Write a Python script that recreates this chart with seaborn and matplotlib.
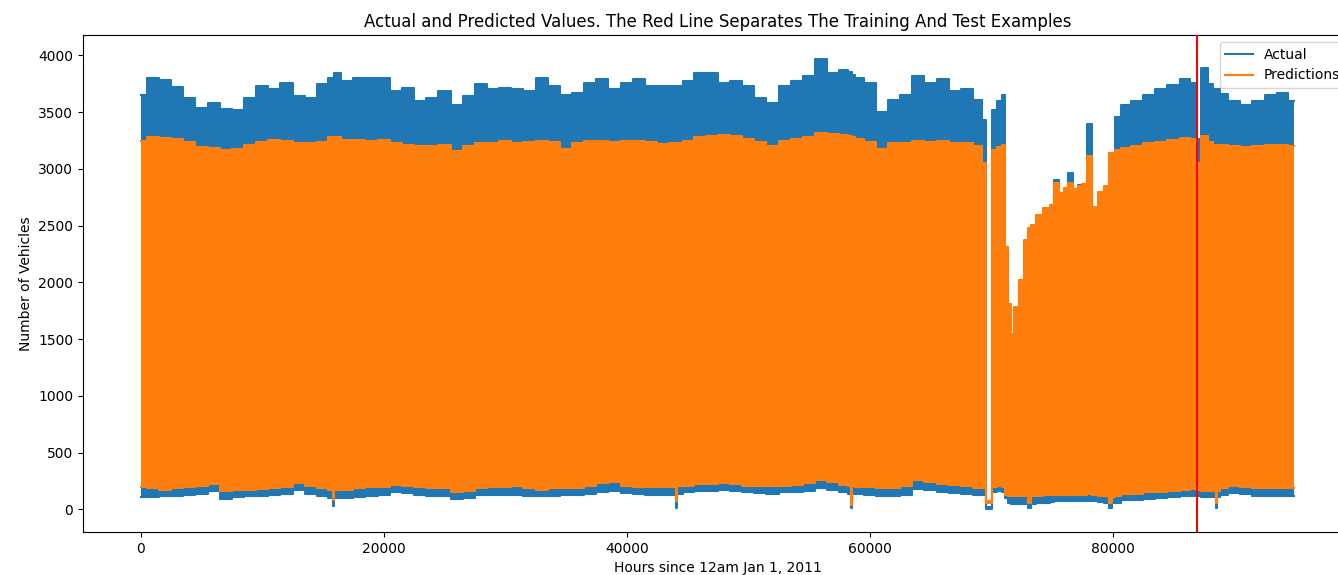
import matplotlib
matplotlib.use("Agg")
import matplotlib.pyplot as plt
import seaborn as sns

# envelope of the hourly series (daily peak / nightly low)
hours = [0, 1000, 2000, 3000, 4000, 5000, 6000, 7000, 8000, 9000,
         10000, 11000, 12000, 13000, 14000, 15000, 15800, 15900, 16000, 17000,
         18000, 19000, 20000, 21000, 22000, 23000, 24000, 25000, 26000, 27000,
         28000, 29000, 30000, 31000, 32000, 33000, 34000, 35000, 36000, 37000,
         38000, 39000, 40000, 41000, 42000, 43000, 44000, 44100, 44200, 45000,
         46000, 47000, 48000, 49000, 50000, 51000, 52000, 53000, 54000, 55000,
         56000, 57000, 58000, 58400, 58500, 58600, 59000, 60000, 61000, 62000,
         63000, 64000, 65000, 66000, 67000, 68000, 69000, 69400, 69820, 70300,
         70700, 71000, 71250, 71500, 71750, 72000, 72500, 72900, 73190, 73300,
         74000, 74600, 75000, 75400, 75800, 76200, 76500, 77000, 77300, 77700,
         78130, 78500, 79000, 79500, 79850, 80000, 80400, 81000, 82000, 83000,
         84000, 85000, 86000, 86700, 87000, 87600, 88000, 88450, 88550, 88650,
         89000, 90000, 91000, 92000, 93000, 94000, 94900]

actual_high = [3650, 3800, 3780, 3720, 3625, 3540, 3580, 3530, 3520, 3625,
               3730, 3700, 3760, 3640, 3625, 3745, 3800, 3800, 3845, 3775,
               3800, 3800, 3800, 3685, 3715, 3600, 3625, 3685, 3560, 3640,
               3745, 3700, 3715, 3700, 3685, 3800, 3730, 3650, 3670, 3760,
               3790, 3700, 3760, 3790, 3730, 3730, 3728, 3728, 3728, 3775,
               3845, 3845, 3760, 3775, 3730, 3625, 3580, 3730, 3775, 3815,
               3965, 3845, 3875, 3850, 3850, 3830, 3805, 3760, 3500, 3610,
               3655, 3815, 3760, 3790, 3685, 3700, 3610, 3434, 20, 3520,
               3600, 3655, 2280, 1780, 1520, 1750, 1990, 2340, 2460, 2500,
               2560, 2640, 2680, 2900, 2760, 2800, 2960, 2800, 2860, 2840,
               3395, 2640, 2780, 2830, 3140, 3140, 3460, 3560, 3600, 3650,
               3700, 3740, 3790, 3760, 3260, 3890, 3750, 3700, 3700, 3700,
               3660, 3600, 3560, 3600, 3655, 3670, 3600]

actual_low = [110, 112, 115, 120, 125, 135, 160, 90, 105, 115,
              120, 125, 135, 170, 140, 115, 100, 27, 100, 100,
              110, 120, 125, 155, 145, 125, 115, 115, 95, 100,
              130, 125, 130, 130, 120, 115, 120, 125, 130, 140,
              150, 160, 145, 135, 125, 130, 130, 12, 140, 150,
              160, 165, 170, 165, 150, 145, 140, 150, 155, 165,
              185, 175, 150, 140, 12, 140, 135, 130, 115, 115,
              130, 180, 170, 150, 145, 140, 130, 125, 5, 150,
              160, 155, 100, 60, 45, 45, 50, 50, 15, 50,
              55, 60, 65, 70, 70, 70, 70, 70, 70, 70,
              75, 70, 65, 60, 15, 55, 60, 80, 85, 95,
              100, 105, 115, 120, 115, 110, 110, 105, 15, 110,
              130, 145, 135, 120, 115, 115, 120]

pred_high = [3250, 3285, 3270, 3260, 3240, 3195, 3185, 3170, 3175, 3210,
             3240, 3255, 3245, 3225, 3225, 3240, 3280, 3280, 3285, 3255,
             3255, 3245, 3255, 3230, 3215, 3200, 3205, 3215, 3160, 3200,
             3230, 3225, 3245, 3230, 3235, 3250, 3240, 3180, 3225, 3245,
             3250, 3240, 3245, 3250, 3235, 3220, 3225, 3225, 3225, 3250,
             3285, 3290, 3295, 3290, 3260, 3235, 3200, 3250, 3260, 3280,
             3320, 3305, 3300, 3290, 3290, 3285, 3260, 3240, 3180, 3225,
             3230, 3250, 3240, 3245, 3230, 3225, 3200, 3050, 75, 3170,
             3190, 3210, 2312, 1814, 1549, 1782, 2018, 2372, 2480, 2504,
             2590, 2660, 2681, 2875, 2790, 2830, 2875, 2820, 2846, 2870,
             3110, 2667, 2800, 2846, 3140, 3140, 3168, 3185, 3205, 3225,
             3240, 3255, 3270, 3260, 3050, 3290, 3240, 3215, 3215, 3215,
             3210, 3205, 3195, 3200, 3210, 3215, 3200]

pred_low = [200, 185, 175, 190, 200, 210, 225, 160, 170, 175,
            180, 185, 195, 230, 205, 190, 175, 80, 175, 175,
            185, 195, 200, 215, 210, 195, 190, 190, 155, 165,
            190, 195, 200, 205, 190, 175, 185, 190, 190, 205,
            230, 245, 210, 200, 195, 200, 200, 71, 205, 210,
            220, 225, 230, 225, 210, 205, 205, 210, 215, 230,
            260, 240, 215, 205, 41, 205, 200, 195, 185, 190,
            205, 255, 240, 220, 215, 205, 190, 185, 55, 200,
            205, 200, 130, 120, 115, 115, 115, 115, 60, 115,
            120, 125, 125, 130, 130, 130, 130, 130, 130, 130,
            135, 125, 120, 115, 60, 110, 115, 135, 140, 150,
            155, 165, 175, 180, 170, 165, 160, 160, 60, 165,
            185, 205, 200, 190, 185, 185, 190]

split_hour = 86900

blue = "#1f77b4"
orange = "#ff7f0e"

fig = plt.figure(figsize=(13.38, 5.75), dpi=100)
ax = fig.add_axes([0.062, 0.0748, 0.949, 0.8643])

# actual values
ax.fill_between(hours, actual_low, actual_high, step="mid", color=blue, lw=0, zorder=1)
sns.lineplot(x=hours, y=actual_high, ax=ax, color=blue, drawstyle="steps-mid",
             errorbar=None, label="Actual", zorder=1.1)
sns.lineplot(x=hours, y=actual_low, ax=ax, color=blue, drawstyle="steps-mid",
             errorbar=None, zorder=1.1)

# predictions
ax.fill_between(hours, pred_low, pred_high, step="mid", color=orange, lw=0, zorder=2)
sns.lineplot(x=hours, y=pred_high, ax=ax, color=orange, drawstyle="steps-mid",
             errorbar=None, label="Predictions", zorder=2.1)
sns.lineplot(x=hours, y=pred_low, ax=ax, color=orange, drawstyle="steps-mid",
             errorbar=None, zorder=2.1)

# train / test split
ax.axvline(split_hour, color="red", lw=1.5, zorder=3)

ax.set_xlim(-4750, 99750)
ax.set_ylim(-199, 4180)
ax.set_title("Actual and Predicted Values. The Red Line Separates The Training And Test Examples")
ax.set_xlabel("Hours since 12am Jan 1, 2011")
ax.set_ylabel("Number of Vehicles")
ax.legend(loc="upper right")

fig.savefig("out.png", dpi=100)
plt.close(fig)
